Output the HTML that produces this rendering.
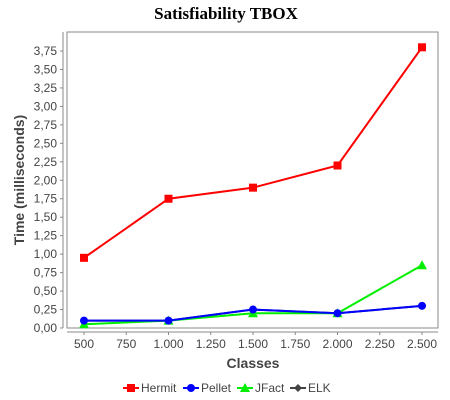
<!DOCTYPE html>
<html><head><meta charset="utf-8"><style>
body{margin:0;background:#fff;width:450px;height:400px;overflow:hidden}
svg{display:block;font-family:"Liberation Sans",sans-serif}
</style></head><body>
<svg id="c" width="450" height="400">
<text x="226" y="19" text-anchor="middle" font-family="Liberation Serif,serif" font-weight="bold" font-size="17">Satisfiability TBOX</text>
<rect x="67" y="32" width="371" height="296" fill="#fff" stroke="#888"/>
<g id="axes"></g>
<g id="series"></g>
<text x="253" y="368" text-anchor="middle" font-weight="bold" font-size="14" fill="#444">Classes</text>
<text transform="translate(24,180) rotate(-90)" text-anchor="middle" font-weight="bold" font-size="14" fill="#444">Time (milliseconds)</text>
<g id="legend"></g>
</svg>
<script>
const categories=[500,1000,1500,2000,2500];
const hermit=[0.95,1.75,1.9,2.2,3.8];
const pellet=[0.1,0.1,0.25,0.2,0.3];
const jfact=[0.05,0.1,0.2,0.2,0.85];
const elk=[0.1,0.1,0.25,0.2,0.3];
const xTicks=[500,750,1000,1250,1500,1750,2000,2250,2500];
const xTickLabels=["500","750","1.000","1.250","1.500","1.750","2.000","2.250","2.500"];
const yTicks=[0,0.25,0.5,0.75,1,1.25,1.5,1.75,2,2.25,2.5,2.75,3,3.25,3.5,3.75];
const NS="http://www.w3.org/2000/svg";
const X=v=>84+(v-500)*(422-84)/2000;
const Y=v=>328-v*(328-51)/3.75;
function mk(t,a,p){const e=document.createElementNS(NS,t);for(const k in a)e.setAttribute(k,a[k]);p.appendChild(e);return e;}
const ax=document.getElementById('axes');
let yl=mk('line',{x1:63,y1:32,x2:63,y2:328,stroke:'#888'},ax);


let xl=mk('line',{x1:67,y1:332,x2:438,y2:332,stroke:'#888'},ax);


yTicks.forEach(v=>{
 mk('line',{x1:60,y1:Y(v),x2:63,y2:Y(v),stroke:'#888'},ax);
 const t=mk('text',{x:57,y:Y(v)+4,'text-anchor':'end','font-size':'12',fill:'#444'},ax);
 t.textContent=v.toFixed(2).replace('.',',');
 
 
});
xTicks.forEach((v,i)=>{
 mk('line',{x1:X(v),y1:332,x2:X(v),y2:335,stroke:'#888'},ax);
 const t=mk('text',{x:X(v),y:348,'text-anchor':'middle','font-size':'12',fill:'#444'},ax);
 t.textContent=xTickLabels[i];
 
 
});
const sg=document.getElementById('series');
function marker(shape,x,y,c,p){
 if(shape==='sq')return mk('rect',{x:x-4,y:y-4,width:8,height:8,fill:c},p);
 if(shape==='ci')return mk('circle',{cx:x,cy:y,r:4,fill:c},p);
 if(shape==='tr')return mk('polygon',{points:`${x},${y-5} ${x+5},${y+4} ${x-5},${y+4}`,fill:c},p);
 return mk('polygon',{points:`${x},${y-4} ${x+4},${y} ${x},${y+4} ${x-4},${y}`,fill:c},p);
}
function series(name,data,c,shape){
 const g=mk('g',{},sg);
 
 
 mk('polyline',{points:data.map((v,i)=>X(categories[i])+','+Y(v)).join(' '),fill:'none',stroke:c,'stroke-width':2},g);
 data.forEach((v,i)=>{const m=marker(shape,X(categories[i]),Y(v),c,g);
  
  });
}
series('elk',elk,'#444','di');
series('jfact',jfact,'#00ee00','tr');
series('pellet',pellet,'#0000ff','ci');
series('hermit',hermit,'#ff0000','sq');
const lg=document.getElementById('legend');
[['Hermit','#ff0000','sq',123],['Pellet','#0000ff','ci',183],['JFact','#00ee00','tr',237],['ELK','#444','di',290]].forEach(([n,c,s,x])=>{
 const g=mk('g',{},lg);
 
 
 mk('line',{x1:x,y1:388,x2:x+16,y2:388,stroke:c,'stroke-width':2},g);
 marker(s,x+8,388,c,g);
 const t=mk('text',{x:x+18,y:392,'font-size':'12',fill:'#444'},g);
 t.textContent=n;
});
</script>
</body></html>
